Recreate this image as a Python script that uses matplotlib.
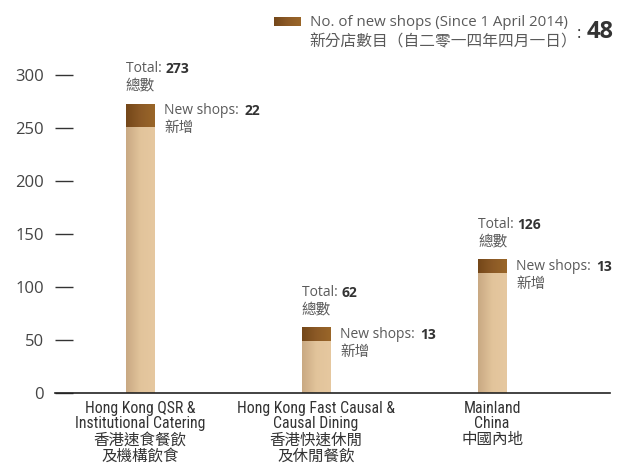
import matplotlib
matplotlib.use("Agg")
import matplotlib.pyplot as plt
import numpy as np
from matplotlib import font_manager
from matplotlib.colors import LinearSegmentedColormap

# ---------------------------------------------------------------------------
# Data
# ---------------------------------------------------------------------------
CAT_EN = ["Hong Kong QSR &\nInstitutional Catering",
          "Hong Kong Fast Causal &\nCausal Dining",
          "Mainland\nChina"]
CAT_ZH = ["香港速食餐飲\n及機構飲食",
          "香港快速休閒\n及休閒餐飲",
          "中國內地"]
TOTALS = [273, 62, 126]
NEW_SHOPS = [22, 13, 13]
TOTAL_NEW = 48
Y_TICKS = [0, 50, 100, 150, 200, 250, 300]
LEGEND_EN = "No. of new shops (Since 1 April 2014)"
LEGEND_ZH = "新分店數目（自二零一四年四月一日）"

# ---------------------------------------------------------------------------
# Style
# ---------------------------------------------------------------------------
fonts = font_manager.fontManager.ttflist
names = {f.name for f in fonts}
NARROW, NARROW_STRETCH, NARROW_SIZE = "Roboto", "normal", 9.6
for cand in ["Roboto Condensed", "Liberation Sans Narrow", "Open Sans Condensed"]:
    if cand in names:
        NARROW, NARROW_SIZE = cand, 10.5
        break
else:
    if any(f.name == "DejaVu Sans" and f.stretch == "condensed" for f in fonts):
        NARROW, NARROW_STRETCH, NARROW_SIZE = "DejaVu Sans", "condensed", 9.6
NARROW_SIZE *= 1.08

LATIN = "Open Sans"
CJK = "Noto Sans CJK TC"

TEXT_GREY = "#5a5a5a"
NUM_DARK = "#333333"
BASE_CMAP = LinearSegmentedColormap.from_list("base", ["#c9a983", "#e2c49b", "#e6c8a0"])
NEW_CMAP = LinearSegmentedColormap.from_list("new", ["#744719", "#8c5a26", "#9a6629"])
BAR_W = 0.16

W, H = 632, 463
fig = plt.figure(figsize=(W / 100, H / 100), dpi=100)
ax = fig.add_axes([55 / W, (H - 393) / H, (610 - 55) / W, (393 - 75) / H])

x = np.arange(len(TOTALS))
base = [t - n for t, n in zip(TOTALS, NEW_SHOPS)]
grad = np.linspace(0, 1, 64).reshape(1, -1)


def gradient_bars(bars, cmap):
    for b in bars:
        b.set_facecolor("none")
        b.set_edgecolor("none")
        x0, y0 = b.get_x(), b.get_y()
        im = ax.imshow(grad, cmap=cmap, aspect="auto",
                       extent=(x0, x0 + b.get_width(), y0, y0 + b.get_height()),
                       zorder=2)
        im.set_clip_path(b)


gradient_bars(ax.bar(x, base, width=BAR_W), BASE_CMAP)
gradient_bars(ax.bar(x, NEW_SHOPS, bottom=base, width=BAR_W), NEW_CMAP)

ax.set_xlim(-0.483, 2.67)
ax.set_ylim(0, 300)
ax.set_yticks(Y_TICKS)
ax.set_yticklabels([str(v) for v in Y_TICKS], family=LATIN, fontsize=12, color="#444444")
ax.tick_params(axis="y", direction="in", length=13, width=1, color="#333333", pad=8)
ax.set_xticks([])
for s in ["top", "right", "left"]:
    ax.spines[s].set_visible(False)
ax.spines["bottom"].set_color("#222222")
ax.spines["bottom"].set_linewidth(1.2)

# ---- category labels ------------------------------------------------------
for i in x:
    en = ax.annotate(CAT_EN[i], xy=(i, 0), xytext=(0, -5.5), textcoords="offset points",
                     ha="center", va="top", family=NARROW, fontstretch=NARROW_STRETCH,
                     fontsize=NARROW_SIZE, color="#333333", linespacing=1.0,
                     annotation_clip=False)
    ax.annotate(CAT_ZH[i], xy=(0.5, 0), xycoords=en, xytext=(0, -0.5),
                textcoords="offset points", ha="center", va="top",
                family=CJK, fontsize=11.2, color="#333333", linespacing=0.93)

# ---- value annotations ----------------------------------------------------
for i in x:
    left = i - BAR_W / 2
    right = i + BAR_W / 2
    t = ax.annotate("Total: ", xy=(left, TOTALS[i]), xytext=(0, 22.7),
                    textcoords="offset points", ha="left", va="baseline",
                    family=LATIN, fontsize=10, color=TEXT_GREY, annotation_clip=False)
    ax.annotate(str(TOTALS[i]), xy=(1, 0), xycoords=t, ha="left", va="bottom",
                family=LATIN, fontsize=10, fontweight="bold", color=NUM_DARK)
    ax.annotate("總數", xy=(left, TOTALS[i]), xytext=(0, 10.3),
                textcoords="offset points", ha="left", va="baseline",
                family=CJK, fontsize=10.5, color=TEXT_GREY, annotation_clip=False)

    n = ax.annotate("New shops: ", xy=(right, TOTALS[i]), xytext=(7.2, -7.5),
                    textcoords="offset points", ha="left", va="baseline",
                    family=LATIN, fontsize=10, color=TEXT_GREY, annotation_clip=False)
    ax.annotate(str(NEW_SHOPS[i]), xy=(1, 0), xycoords=n, xytext=(1.5, 0),
                textcoords="offset points", ha="left", va="bottom",
                family=LATIN, fontsize=10, fontweight="bold", color=NUM_DARK)
    ax.annotate("新增", xy=(right, TOTALS[i]), xytext=(7.2, -20.5),
                textcoords="offset points", ha="left", va="baseline",
                family=CJK, fontsize=10.5, color=TEXT_GREY, annotation_clip=False)

# ---- legend ---------------------------------------------------------------
lax = fig.add_axes([274 / W, (H - 26) / H, 27 / W, 9 / H])
lax.imshow(grad, cmap=NEW_CMAP, aspect="auto")
lax.axis("off")
fig.text(310 / W, 1 - 26 / H, LEGEND_EN, family=LATIN, fontsize=10.8,
         color=TEXT_GREY, va="baseline")
fig.text(309 / W, 1 - 46.5 / H, LEGEND_ZH, family=CJK, fontsize=11.3,
         color=TEXT_GREY, va="baseline")
fig.text(577 / W, 1 - 38 / H, ":", family=LATIN, fontsize=12,
         color=NUM_DARK, va="baseline")
fig.text(587 / W, 1 - 38 / H, str(TOTAL_NEW), family=LATIN, fontsize=17,
         fontweight="bold", color=NUM_DARK, va="baseline")

fig.savefig("out.png", dpi=100)
